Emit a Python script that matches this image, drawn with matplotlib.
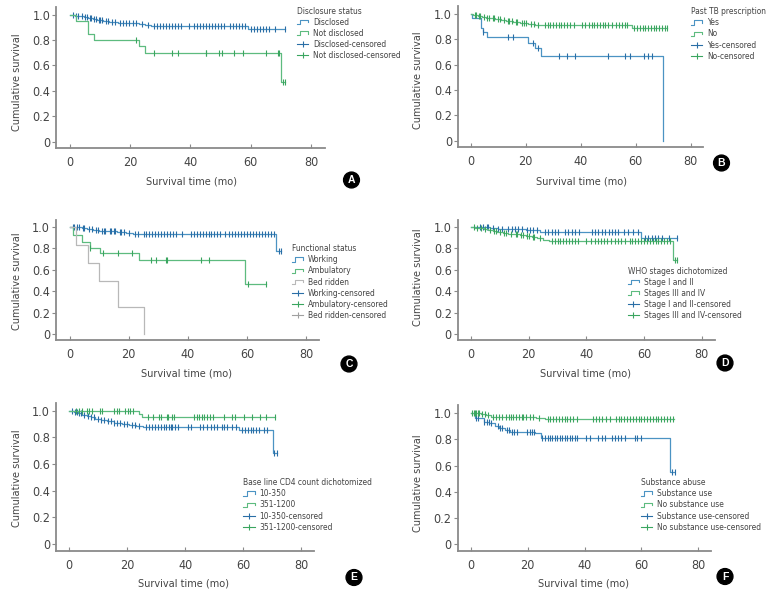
import numpy as np
import matplotlib
matplotlib.use("Agg")
from matplotlib import pyplot as plt
from matplotlib import font_manager as fm
from matplotlib.lines import Line2D
from matplotlib.legend_handler import HandlerBase

# the original uses a narrow grotesque; take a condensed face if one is installed
narrow = None
for want in ["Liberation Sans Narrow", "DejaVu Sans"]:
    for f in fm.fontManager.ttflist:
        if f.name == want and f.style == "normal" and f.weight in (400, "normal") and \
                ("Narrow" in f.name or "ondensed" in str(f.stretch) or "Condensed" in f.fname):
            narrow = f
            break
    if narrow is not None:
        break

if narrow is not None:
    plt.rcParams['font.family'] = [narrow.name, 'Liberation Sans', 'DejaVu Sans']
    if "Condensed" in narrow.fname:
        plt.rcParams['font.stretch'] = 'condensed'
    LEG_FS = 6.0
else:
    plt.rcParams['font.family'] = ['Liberation Sans', 'DejaVu Sans']
    LEG_FS = 5.6

# ---- data (times in months, survival after each step) ----
# A: disclosure status
A_dis_t = [1.5, 3, 4.5, 6, 7.5, 9, 11, 13, 16, 20, 23, 25, 27, 59]
A_dis_s = [0.993, 0.986, 0.979, 0.972, 0.965, 0.958, 0.951, 0.944, 0.938, 0.931, 0.924, 0.917, 0.91, 0.885]
A_dis_end = 71.5
A_dis_cens = [1, 2, 2.5, 4, 5, 5.5, 6.5, 7, 8, 8.5, 9.5, 10, 10.5, 12, 12.5, 14, 15, 16.5, 17.5,
              18.5, 19.5, 21, 22, 24, 26, 28, 29, 30, 31, 32, 33, 34, 35, 36, 37, 39.5, 41, 42,
              43, 44, 45, 46, 47, 48, 49, 50, 51, 53, 54, 55, 56, 57, 58, 60, 61, 62, 63, 64,
              65, 66, 68, 71.5]
A_nd_t = [2, 6, 8, 23, 25, 70]
A_nd_s = [0.95, 0.85, 0.80, 0.75, 0.70, 0.47]
A_nd_end = 71.5
A_nd_cens = [22, 28, 34, 36, 45, 45.3, 49.5, 50.5, 54.5, 57.5, 65, 69, 69.3, 70.8, 71.5]

# B: past TB prescription
B_yes_t = [0.5, 3.7, 4.4, 5.8, 20.7, 23.3, 25.7, 70]
B_yes_s = [0.97, 0.89, 0.855, 0.815, 0.775, 0.73, 0.665, 0.0]
B_yes_end = 70
B_yes_cens = [4.6, 13.5, 15.5, 22.5, 24.5, 32, 35, 38, 50, 56, 58, 63, 64.5, 66]
B_no_t = [1, 2.5, 4, 5.5, 7, 9, 11, 13, 15.5, 18, 21, 23.5, 26, 58.5]
B_no_s = [0.993, 0.986, 0.979, 0.972, 0.965, 0.958, 0.951, 0.944, 0.937, 0.93, 0.923, 0.916, 0.91, 0.888]
B_no_end = 71.5
B_no_cens = [1.5, 2, 3, 3.5, 5, 6, 6.5, 8, 8.5, 10, 10.5, 12, 13.5, 14, 15, 16.5, 17, 18.5, 19.5,
             20, 22, 23, 24.5, 27, 28, 29, 30, 31, 32, 33, 34, 35, 36, 37.5, 40.5, 41.5, 43, 44,
             45, 46, 47, 48, 49, 50, 51.5, 53, 54, 55, 56, 57, 59.5, 60.5, 61.5, 62.5, 63.5,
             64.5, 65.5, 66.5, 67.5, 68.5, 69.5, 70.5, 71.5]

# C: functional status
C_work_t = [2, 4, 6, 8, 10, 13, 16, 19, 21.5, 24, 70]
C_work_s = [0.993, 0.985, 0.978, 0.97, 0.963, 0.956, 0.949, 0.942, 0.935, 0.928, 0.775]
C_work_end = 71.5
C_work_cens = [1, 1.5, 2.5, 3, 4.5, 5, 6.5, 7.5, 9, 9.5, 11, 11.5, 12, 13.5, 14, 15, 15.5, 17,
               17.5, 18.5, 20, 22, 23, 25, 26, 27, 28, 29, 30, 31, 32, 33, 34, 35, 36, 38, 41,
               42, 43, 44, 45, 46, 47, 48, 49, 50, 51, 52.5, 54, 55, 56, 57, 58, 59, 60, 61,
               62, 63, 64, 65, 66, 67, 68, 69, 70.8, 71.5]
C_amb_t = [1, 4.3, 6.9, 10.3, 23.3, 59.2]
C_amb_s = [0.925, 0.855, 0.805, 0.76, 0.69, 0.465]
C_amb_end = 66.5
C_amb_cens = [7, 11.2, 16.3, 21.2, 27.5, 29.3, 32.6, 33, 44.4, 47.3, 60.3, 66.4]
C_bed_t = [2.1, 6.1, 10, 16.3, 25.3]
C_bed_s = [0.833, 0.667, 0.5, 0.25, 0.0]
C_bed_end = 25.3
C_bed_cens = []

# D: WHO stages dichotomized
D_s12_t = [6.5, 9.5, 19, 24, 59]
D_s12_s = [0.99, 0.977, 0.965, 0.953, 0.895]
D_s12_end = 71.5
D_s12_cens = [3.1, 4.3, 5.4, 6, 7.7, 9.5, 10.6, 12.9, 14.1, 15.3, 16.4, 17.6, 19.3, 20.5, 21.6,
              22.8, 25.7, 26.8, 28, 29.1, 30.3, 32.6, 33.8, 34.9, 36.1, 37.3, 41.9, 43, 44.2,
              45.3, 46.5, 47.7, 48.8, 50, 51.1, 52.9, 54.6, 56.3, 58, 60.4, 61.5, 62.7, 63.9,
              65, 66.2, 68.5, 71.4]
D_s34_t = [1.5, 3, 4.5, 6, 7.5, 9, 11, 13, 15, 17, 19, 21, 23, 25, 27, 70.2]
D_s34_s = [0.992, 0.984, 0.976, 0.968, 0.96, 0.952, 0.944, 0.936, 0.928, 0.92, 0.912, 0.904,
           0.893, 0.879, 0.865, 0.69]
D_s34_end = 71.3
D_s34_cens = [1, 2, 3.5, 5, 6.5, 8, 8.5, 10, 11.5, 12, 14, 15.5, 16, 17.5, 18, 19.5, 20, 21.5,
              22, 24, 28, 29, 30, 31, 32, 33, 34, 35, 36, 37, 40, 41.5, 43, 44, 45, 46, 47,
              48.5, 50, 51, 52, 53.5, 55, 56, 57, 58, 59, 60, 61, 62, 63, 64, 65, 66, 67, 68,
              69, 70.6, 71.3]

# E: baseline CD4 count dichotomized
E_lo_t = [1.5, 3, 4.5, 6, 7.5, 9, 11, 13, 15.5, 18, 20.5, 23, 25.5, 58.6, 70.1]
E_lo_s = [0.99, 0.98, 0.97, 0.96, 0.95, 0.94, 0.93, 0.92, 0.91, 0.902, 0.895, 0.887, 0.878,
          0.855, 0.68]
E_lo_end = 71.5
E_lo_cens = [1, 2, 2.5, 3.5, 4, 5, 6.5, 7.5, 8.5, 10, 11, 12, 13.5, 14.5, 15.5, 16.5, 17.5, 19,
             20, 21.5, 22.5, 24, 26.5, 27.5, 28.5, 29.5, 30.5, 31.5, 32.5, 33.5, 34.5, 35,
             35.5, 36.5, 37.5, 41, 42, 45, 46, 47.5, 49, 50, 51, 52.5, 53.5, 54.5, 56, 57.5,
             59.5, 60.5, 61.5, 62.5, 63.5, 64.5, 65.5, 67, 68, 70.6, 71.5]
E_hi_t = [24, 25]
E_hi_s = [0.975, 0.955]
E_hi_end = 71
E_hi_cens = [2.2, 3.3, 4.5, 6, 6.9, 7.7, 10.6, 11.2, 15.5, 16.3, 17.2, 19.2, 20.1, 21, 22.1,
             27.3, 29, 31, 31.6, 33.6, 34.2, 35.3, 36.1, 43.1, 43.9, 44.8, 45.7, 46.5, 47.4,
             48.6, 49.7, 53.5, 56, 57.2, 60.4, 63.1, 65.8, 67.8, 71]

# F: substance abuse
F_use_t = [1.5, 4.5, 6.5, 8.5, 10, 12, 13.7, 22.5, 24.6, 69.9]
F_use_s = [0.964, 0.935, 0.922, 0.905, 0.89, 0.875, 0.86, 0.85, 0.813, 0.548]
F_use_end = 71.5
F_use_cens = [1.7, 2.4, 4.8, 5.6, 6.4, 7.1, 9.5, 10.3, 10.9, 12.6, 13.5, 14.4, 15.3, 16.1, 19.7,
              20.8, 21.4, 22.2, 25.1, 26.1, 27, 27.8, 28.7, 29.6, 30.5, 31.3, 32.2, 33.1, 34,
              34.9, 35.7, 36.6, 37.5, 40.7, 41.9, 44.8, 46, 47.1, 49.5, 50.6, 51.8, 53, 54.2,
              57.7, 58.6, 60, 70.8, 71.7]
F_no_t = [3.5, 5.5, 7, 20, 23, 26]
F_no_s = [0.993, 0.985, 0.975, 0.97, 0.965, 0.957]
F_no_end = 71.5
F_no_cens = [0.5, 1, 1.5, 2, 2.5, 3, 4, 5, 6, 8, 9, 10, 11, 12.5, 13.5, 14, 15, 16, 17, 18,
             18.5, 19.5, 21, 22, 24, 27, 28, 29, 30, 31, 32, 33, 34, 35, 36, 37.5, 43, 44, 45,
             46, 47.5, 49, 51, 52, 53, 54, 55, 56, 57, 58, 59, 60, 61, 62, 63, 64, 65, 66, 67,
             68, 69, 70, 71]

BLUE, BLUE_C = "#4b93c3", "#2a6ea6"
GREEN, GREEN_C = "#5dbb7f", "#3aa55f"
GRAY, GRAY_C = "#b8b8b8", "#a0a0a0"
AXC = "#8a8a8a"
TXT = "#444444"

W, H = 771, 602
XMIN, XMAX = -4.5, 84.5
YMIN, YMAX = -0.05, 1.06

# panel layout: pixel positions of x=0, x=80, y=0, y=1; legend (left, title y); label spots; badge
panels = [
    dict(letter="A", px=(70, 311, 141.7, 14.7), title="Disclosure status", leg=(297, 11.7),
         ylab=(17, 82), xlab=(191.7, 181.7), badge=(351.5, 180),
         curves=[("Disclosed", A_dis_t, A_dis_s, A_dis_end, A_dis_cens, BLUE, BLUE_C),
                 ("Not disclosed", A_nd_t, A_nd_s, A_nd_end, A_nd_cens, GREEN, GREEN_C)]),
    dict(letter="B", px=(470.7, 690.7, 140.7, 14), title="Past TB prescription", leg=(691, 12.3),
         ylab=(418, 80), xlab=(582, 182), badge=(721.5, 163),
         curves=[("Yes", B_yes_t, B_yes_s, B_yes_end, B_yes_cens, BLUE, BLUE_C),
                 ("No", B_no_t, B_no_s, B_no_end, B_no_cens, GREEN, GREEN_C)]),
    dict(letter="C", px=(69.7, 306, 334.3, 226.7), title="Functional status", leg=(292, 249.3),
         ylab=(17, 281), xlab=(186.7, 374), badge=(349, 364),
         curves=[("Working", C_work_t, C_work_s, C_work_end, C_work_cens, BLUE, BLUE_C),
                 ("Ambulatory", C_amb_t, C_amb_s, C_amb_end, C_amb_cens, GREEN, GREEN_C),
                 ("Bed ridden", C_bed_t, C_bed_s, C_bed_end, C_bed_cens, GRAY, GRAY_C)]),
    dict(letter="D", px=(471, 701.7, 334.3, 226.7), title="WHO stages dichotomized", leg=(627.7, 271.7),
         ylab=(418, 277), xlab=(585, 373), badge=(725, 363),
         curves=[("Stage I and II", D_s12_t, D_s12_s, D_s12_end, D_s12_cens, BLUE, BLUE_C),
                 ("Stages III and IV", D_s34_t, D_s34_s, D_s34_end, D_s34_cens, GREEN, GREEN_C)]),
    dict(letter="E", px=(69.3, 301.3, 544, 410.7), title="Base line CD4 count dichotomized", leg=(243.3, 483.3),
         ylab=(17, 478), xlab=(184, 583), badge=(354, 577.5),
         curves=[("10-350", E_lo_t, E_lo_s, E_lo_end, E_lo_cens, BLUE, BLUE_C),
                 ("351-1200", E_hi_t, E_hi_s, E_hi_end, E_hi_cens, GREEN, GREEN_C)]),
    dict(letter="F", px=(470.7, 698.3, 544, 413.3), title="Substance abuse", leg=(641, 483.3),
         ylab=(418, 483), xlab=(584, 583), badge=(725, 576.5),
         curves=[("Substance use", F_use_t, F_use_s, F_use_end, F_use_cens, BLUE, BLUE_C),
                 ("No substance use", F_no_t, F_no_s, F_no_end, F_no_cens, GREEN, GREEN_C)]),
]


class StepHandler(HandlerBase):
    # little step glyph used by SPSS style legends
    def create_artists(self, legend, orig_handle, xdescent, ydescent, width, height, fontsize, trans):
        xs = np.array([0, 0.3, 0.3, 1.0, 1.0]) * width - xdescent
        ys = np.array([0.15, 0.15, 0.85, 0.85, 0.4]) * height - ydescent
        ln = Line2D(xs, ys, color=orig_handle.get_color(), lw=0.8, transform=trans)
        return [ln]


def fx(x):
    return x / W


def fy(y):
    return 1 - y / H


fig = plt.figure(figsize=(W / 100, H / 100), dpi=100)
fig.patch.set_facecolor("white")

for p in panels:
    x0, x80, y0, y1 = p["px"]
    sx = (x80 - x0) / 80.0
    sy = (y0 - y1)
    left = x0 + XMIN * sx
    right = x0 + XMAX * sx
    bottom = y0 - YMIN * sy
    top = y0 - YMAX * sy
    ax = fig.add_axes([fx(left), fy(bottom), (right - left) / W, (bottom - top) / H])

    step_handles, cens_handles = [], []
    for name, t, s, end, cens, col, ccol in p["curves"]:
        xs = [0] + list(t) + [end]
        ys = [1.0] + list(s) + [s[-1]]
        ln, = ax.plot(xs, ys, drawstyle="steps-post", color=col, lw=0.9, label=name)
        lev = np.array([1.0] + list(s))
        idx = np.searchsorted(np.array(t), np.array(cens, dtype=float), side="right")
        ax.plot(cens, lev[idx] if len(cens) else [], ls="none", marker="|", ms=5,
                mew=0.8, color=ccol)
        step_handles.append(ln)
        cens_handles.append(Line2D([], [], color=ccol, lw=0.8, marker="|", ms=5, mew=0.8))

    ax.set_xlim(XMIN, XMAX)
    ax.set_ylim(YMIN, YMAX)
    ax.set_xticks([0, 20, 40, 60, 80])
    ax.set_yticks([0, 0.2, 0.4, 0.6, 0.8, 1.0])
    ax.set_yticklabels(["0", "0.2", "0.4", "0.6", "0.8", "1.0"])
    for sp in ["top", "right"]:
        ax.spines[sp].set_visible(False)
    for sp in ["left", "bottom"]:
        ax.spines[sp].set_color(AXC)
        ax.spines[sp].set_linewidth(1.3)
    ax.tick_params(axis="y", direction="out", length=3, width=0.8, color=AXC,
                   labelsize=9, labelcolor=TXT, pad=1.5)
    ax.tick_params(axis="x", direction="in", length=3, width=0.8, color=AXC,
                   labelsize=9, labelcolor=TXT, pad=6)
    ax.set_facecolor("none")

    ax.set_ylabel("Cumulative survival", fontsize=7.8, color=TXT)
    ax.yaxis.set_label_coords(fx(p["ylab"][0]), fy(p["ylab"][1]), transform=fig.transFigure)
    ax.set_xlabel("Survival time (mo)", fontsize=7.8, color=TXT)
    ax.xaxis.set_label_coords(fx(p["xlab"][0]), fy(p["xlab"][1]), transform=fig.transFigure)
    ax.yaxis.label.set_va("center")
    ax.xaxis.label.set_va("center")

    labels = [c[0] for c in p["curves"]] + [c[0] + "-censored" for c in p["curves"]]
    hmap = {h: StepHandler() for h in step_handles}
    lx, ly = p["leg"]
    leg = ax.legend(step_handles + cens_handles, labels, handler_map=hmap,
                    title=p["title"], loc="upper left",
                    bbox_to_anchor=(fx(lx), fy(ly - 5)), bbox_transform=fig.transFigure,
                    frameon=False, fontsize=LEG_FS, title_fontsize=LEG_FS, borderpad=0,
                    borderaxespad=0, handlelength=1.35, handletextpad=0.55,
                    labelspacing=0.25, numpoints=1, alignment="left")
    for txt in leg.get_texts():
        txt.set_color(TXT)
    leg.get_title().set_color(TXT)

    bx, by = p["badge"]
    fig.text(fx(bx), fy(by), p["letter"], ha="center", va="center", color="white",
             fontsize=7.5, fontweight="bold", family="Liberation Sans",
             bbox=dict(boxstyle="circle,pad=0.28", fc="black", ec="black"))

fig.savefig("out.png", dpi=100)
